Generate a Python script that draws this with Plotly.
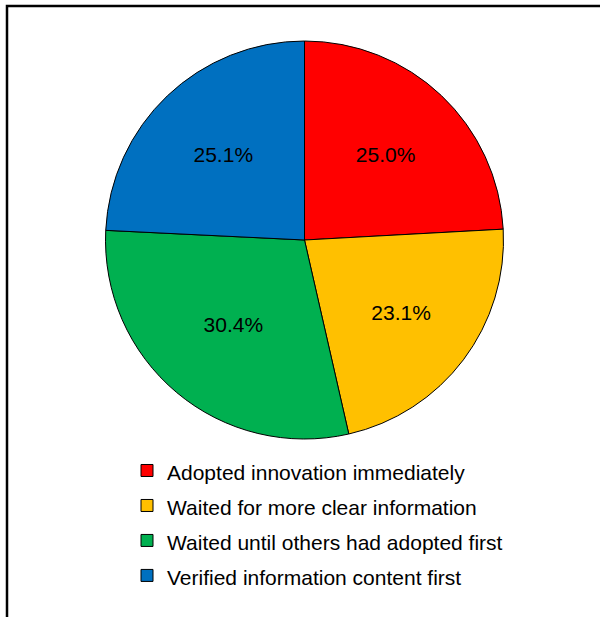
import plotly.graph_objects as go

labels = ["Adopted innovation immediately", "Waited for more clear information",
          "Waited until others had adopted first", "Verified information content first"]
values = [25.0, 23.1, 30.4, 25.1]
colors = ["#FF0000", "#FFC000", "#00B050", "#0070C0"]

W, H = 600, 617
cx, cy, r = 304.5, 240, 199

fig = go.Figure(go.Pie(
    labels=[f"<span style='font-size:21px'>{l}</span>" for l in labels],
    values=values,
    sort=False,
    direction="clockwise",
    rotation=0,
    marker=dict(colors=colors, line=dict(color="#000000", width=1)),
    texttemplate="%{value:.1f}%",
    textinfo="text",
    textposition="inside",
    insidetextorientation="horizontal",
    textfont=dict(family="Liberation Sans, Arial, sans-serif", size=21, color="#000000"),
    domain=dict(x=[(cx - r) / W, (cx + r) / W], y=[1 - (cy + r) / H, 1 - (cy - r) / H]),
    hoverinfo="label+percent",
))

fig.update_layout(
    width=W, height=H,
    margin=dict(l=0, r=0, t=0, b=0),
    paper_bgcolor="white",
    plot_bgcolor="white",
    font=dict(family="Liberation Sans, Arial, sans-serif", color="#000000"),
    showlegend=True,
    legend=dict(
        x=127 / W, y=1 - 448 / H, xanchor="left", yanchor="top",
        font=dict(size=24.6, color="#000000"),
        bgcolor="rgba(0,0,0,0)",
        itemwidth=30,
    ),
    shapes=[dict(type="rect", xref="paper", yref="paper",
                 x0=7 / W, x1=1.2, y0=-0.2, y1=1 - 6 / H,
                 line=dict(color="black", width=2.5), fillcolor="rgba(0,0,0,0)")],
)

fig.write_html("out.html")
